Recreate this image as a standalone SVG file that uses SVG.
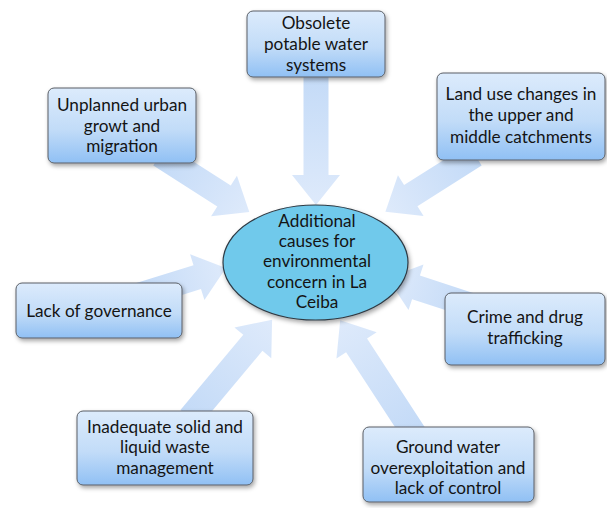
<svg xmlns="http://www.w3.org/2000/svg" width="607" height="508" viewBox="0 0 607 508">
<style>
.box{fill:url(#boxg);stroke:#5a5f66;stroke-width:1;filter:url(#sh)}
.arr{fill:url(#arrg)}
text{font-family:Lato,"Open Sans",sans-serif;font-size:17.2px;fill:#141414;text-anchor:middle}
</style>
<defs>
<linearGradient id="boxg" x1="0" y1="0" x2="0" y2="1">
<stop offset="0" stop-color="#dcebfc"/>
<stop offset="0.55" stop-color="#c2dcf8"/>
<stop offset="1" stop-color="#90c0f4"/>
</linearGradient>
<linearGradient id="arrg" x1="0" y1="0" x2="1" y2="0">
<stop offset="0" stop-color="#c3daf7"/>
<stop offset="1" stop-color="#deeafb"/>
</linearGradient>
<filter id="sh" x="-10%" y="-10%" width="125%" height="130%">
<feDropShadow dx="1.5" dy="2.5" stdDeviation="2" flood-color="#000" flood-opacity="0.35"/>
</filter>
</defs>
<g id="connectors">
<polygon class="arr" transform="translate(316,70) rotate(90)" points="0,-12.5 105,-12.5 105,-24 135,0 105,24 105,12.5 0,12.5"/>
<polygon class="arr" transform="translate(160,155) rotate(32.6)" points="0,-12.5 76,-12.5 76,-24 106,0 76,24 76,12.5 0,12.5"/>
<polygon class="arr" transform="translate(475,155) rotate(147.7)" points="0,-12.5 76,-12.5 76,-24 106,0 76,24 76,12.5 0,12.5"/>
<polygon class="arr" transform="translate(140,295) rotate(-17.4)" points="0,-12.5 60,-12.5 60,-24 90,0 60,24 60,12.5 0,12.5"/>
<polygon class="arr" transform="translate(473,306) rotate(-161.8)" points="0,-12.5 60,-12.5 60,-24 90,0 60,24 60,12.5 0,12.5"/>
<polygon class="arr" transform="translate(190,418) rotate(-50.1)" points="0,-12.5 98,-12.5 98,-24 128,0 98,24 98,12.5 0,12.5"/>
<polygon class="arr" transform="translate(415,435) rotate(-123.1)" points="0,-12.5 107,-12.5 107,-24 137,0 107,24 107,12.5 0,12.5"/>
</g>
<g id="center">
<ellipse cx="315.5" cy="262.5" rx="92.5" ry="57.5" fill="#70c9eb" stroke="#2e3a44" stroke-width="1.2" filter="url(#sh)"/>
<text x="317" y="227">Additional</text>
<text x="317" y="247">causes for</text>
<text x="317" y="267">environmental</text>
<text x="317" y="288">concern in La</text>
<text x="317" y="308">Ceiba</text>
</g>
<g id="n-obsolete">
<rect class="box" x="247" y="11" width="138" height="66" rx="6"/>
<text x="316" y="29">Obsolete</text>
<text x="316" y="50">potable water</text>
<text x="316" y="71">systems</text>
</g>
<g id="n-unplanned">
<rect class="box" x="48" y="88" width="148" height="75" rx="6"/>
<text x="122" y="111">Unplanned urban</text>
<text x="122" y="132">growt and</text>
<text x="122" y="152">migration</text>
</g>
<g id="n-landuse">
<rect class="box" x="437" y="73" width="168" height="87" rx="6"/>
<text x="521" y="100">Land use changes in</text>
<text x="521" y="121">the upper and</text>
<text x="521" y="143">middle catchments</text>
</g>
<g id="n-governance">
<rect class="box" x="16" y="283" width="166" height="55" rx="6"/>
<text x="99" y="317">Lack of governance</text>
</g>
<g id="n-crime">
<rect class="box" x="445" y="293" width="160" height="72" rx="6"/>
<text x="525" y="323">Crime and drug</text>
<text x="525" y="344">trafficking</text>
</g>
<g id="n-waste">
<rect class="box" x="77" y="411" width="176" height="74" rx="6"/>
<text x="165" y="433">Inadequate solid and</text>
<text x="165" y="453">liquid waste</text>
<text x="165" y="474">management</text>
</g>
<g id="n-groundwater">
<rect class="box" x="363" y="427" width="171" height="75" rx="6"/>
<text x="448" y="453">Ground water</text>
<text x="448" y="474">overexploitation and</text>
<text x="448" y="494">lack of control</text>
</g>
</svg>
